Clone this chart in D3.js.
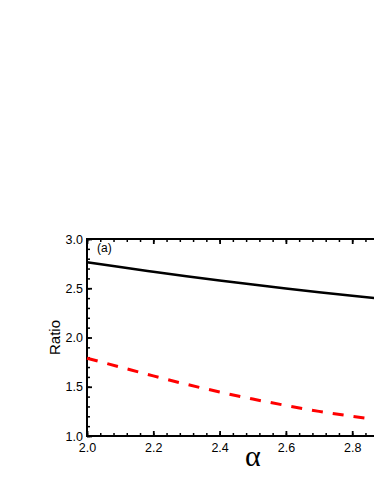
<!DOCTYPE html>
<html>
<head>
<meta charset="utf-8">
<script src="https://cdn.jsdelivr.net/npm/d3@7"></script>
<style>
  body { margin: 0; background: #fff; }
  text { font-family: "Liberation Sans", Arial, sans-serif; }
</style>
</head>
<body>
<svg id="chart" width="374" height="484"></svg>
<script>
// Values
const alpha = [2.0, 2.1, 2.2, 2.3, 2.4, 2.5, 2.6, 2.7, 2.8, 2.9, 3.0];
const ratioSolid = [2.765, 2.715, 2.668, 2.622, 2.578, 2.537, 2.498, 2.460, 2.424, 2.390, 2.357];
const ratioDashed = [1.79, 1.70, 1.61, 1.525, 1.447, 1.375, 1.310, 1.250, 1.200, 1.158, 1.12];
const xMajor = [2.0, 2.2, 2.4, 2.6, 2.8, 3.0];
const xLabels = ['2.0', '2.2', '2.4', '2.6', '2.8', ''];   // 3.0 falls outside the window
const yMajor = [1.0, 1.5, 2.0, 2.5, 3.0];

const svg = d3.select('#chart');

// Plot box (right side runs past the window, as in the reference)
const plotLeft = 87, plotTop = 239, plotRight = 418.5, plotBottom = 436;

const x = d3.scaleLinear().domain([2.0, 3.0]).range([plotLeft, plotRight]);
const y = d3.scaleLinear().domain([1.0, 3.0]).range([plotBottom, plotTop]);

const xMinor = d3.range(2.0, 3.0001, 0.04);
const yMinor = d3.range(1.0, 3.0001, 0.1);

// Draw an axis with inward ticks
function addAxis(axisFn, scale, tr, major, minor, fmt, pad) {
  const g = svg.append('g').attr('transform', tr);
  g.call(axisFn(scale).tickValues(minor).tickSize(-3).tickFormat(''))
    .call(s => s.select('.domain').remove());
  g.selectAll('.tick line').attr('stroke-width', 1.5);
  const g2 = svg.append('g').attr('transform', tr);
  g2.call(axisFn(scale).tickValues(major).tickSize(-5).tickPadding(pad || 0)
      .tickFormat(fmt || ''))
    .call(s => s.select('.domain').remove());
  g2.selectAll('.tick line').attr('stroke-width', 1.8);
  g2.selectAll('text').attr('font-size', 12.5).attr('fill', '#000');
  return g2;
}

addAxis(d3.axisBottom, x, `translate(0,${plotBottom})`, xMajor, xMinor,
  (d, i) => xLabels[i], 7);
addAxis(d3.axisTop, x, `translate(0,${plotTop})`, xMajor, xMinor, null);
addAxis(d3.axisLeft, y, `translate(${plotLeft},0)`, yMajor, yMinor, d3.format('.1f'), 4);
addAxis(d3.axisRight, y, `translate(${plotRight},0)`, yMajor, yMinor, null);

// Frame
svg.append('rect')
  .attr('x', plotLeft).attr('y', plotTop)
  .attr('width', plotRight - plotLeft).attr('height', plotBottom - plotTop)
  .attr('fill', 'none').attr('stroke', '#000').attr('stroke-width', 2);

// Curves
const line = d3.line().curve(d3.curveMonotoneX);
svg.append('path')
  .attr('d', line(alpha.map((a, i) => [x(a), y(ratioSolid[i])])))
  .attr('fill', 'none').attr('stroke', '#000').attr('stroke-width', 2.5);
svg.append('path')
  .attr('d', line(alpha.map((a, i) => [x(a), y(ratioDashed[i])])))
  .attr('fill', 'none').attr('stroke', '#ff0000').attr('stroke-width', 3)
  .attr('stroke-dasharray', '11,10');

// Labels
svg.append('text').attr('x', 97).attr('y', 252).attr('font-size', 12).text('(a)');
svg.append('text')
  .attr('transform', `translate(60,${(plotTop + plotBottom) / 2}) rotate(-90)`)
  .attr('text-anchor', 'middle').attr('font-size', 15).text('Ratio');
svg.append('text')
  .attr('x', (plotLeft + plotRight) / 2).attr('y', 466)
  .attr('text-anchor', 'middle')
  .style('font-family', '"Liberation Serif", "Times New Roman", serif')
  .attr('font-size', 30).text('α');
</script>
</body>
</html>
